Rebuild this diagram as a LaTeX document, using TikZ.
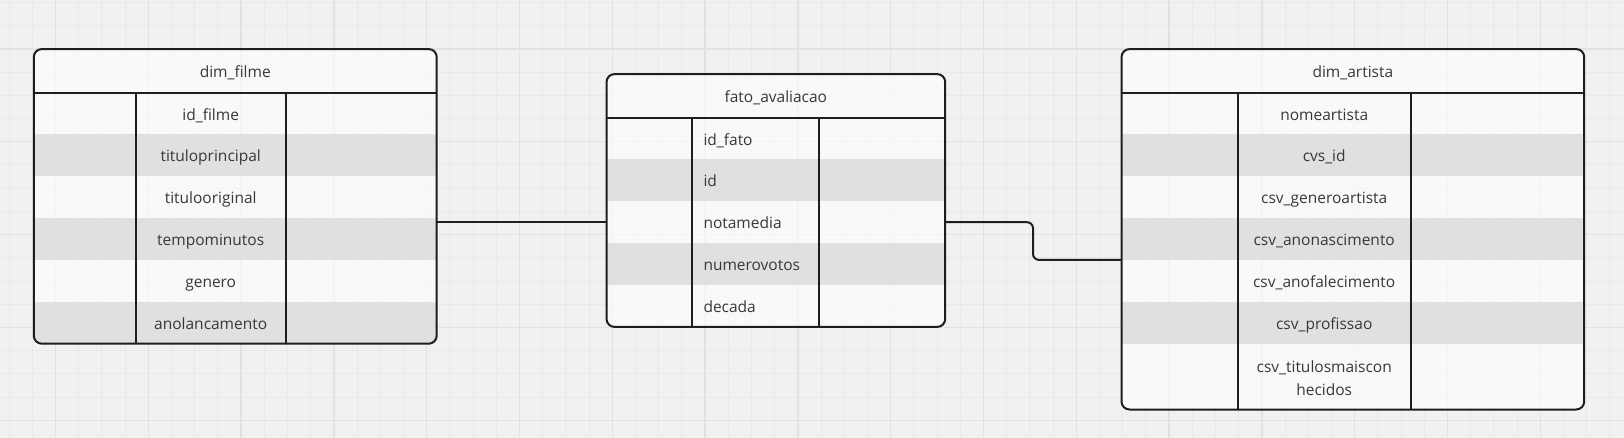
\documentclass[tikz,border=0pt]{standalone}
\usepackage{fontspec}
\setmainfont{Open Sans}
\usepackage{tikz}
\usepackage{xcolor}
\usetikzlibrary{positioning}

\definecolor{fundo}{HTML}{F1F1F1}
\definecolor{gradefina}{HTML}{E9E9E9}
\definecolor{gradegrossa}{HTML}{E2E2E2}
\definecolor{faixaclara}{HTML}{F7F7F7}
\definecolor{faixaescura}{HTML}{E0E0E0}
\definecolor{contorno}{HTML}{1E1E1E}
\definecolor{texto}{HTML}{383838}

\tikzset{
  tabela/.style={rectangle, inner sep=0pt, rounded corners=8pt, fill=white, fill opacity=0.6},
  borda/.style={draw=contorno, line width=2pt, rounded corners=8pt},
  divisoria/.style={draw=contorno, line width=2pt},
  faixa/.style={fill=faixaescura},
  campo/.style={inner sep=0pt, text=texto, font=\fontsize{15.5}{23.3}\selectfont, text height=13pt, text depth=0pt},
  ligacao/.style={draw=contorno, line width=2pt, rounded corners=6pt},
}

\begin{document}
\begin{tikzpicture}[x=1pt, y=-1pt]
\useasboundingbox (0,0) rectangle (1624,438);
\fill[fundo] (0,0) rectangle (1624,438);

% quadriculado do fundo
\begin{scope}
\clip (0,0) rectangle (1624,438);
\draw[gradefina, line width=1pt, xshift=9.1pt, yshift=-2.6pt, step=23.2pt] (-40,480) grid (1680,-40);
\draw[gradegrossa, line width=1.3pt, xshift=55.5pt, yshift=-49pt, step=92.8pt] (-100,540) grid (1700,-100);
\end{scope}

% dim_filme
\node[tabela, minimum width=402.5pt, minimum height=294.2pt] (filme) at (235.25,196.4) {};
\begin{scope}
\clip[rounded corners=8pt] (filme.north west) rectangle (filme.south east);
\fill[faixa] (34,134.5) rectangle (436.5,176.3);
\fill[faixa] (34,218.1) rectangle (436.5,259.9);
\fill[faixa] (34,301.7) rectangle (436.5,343.5);
\end{scope}
\draw[divisoria] (34,92.7) -- (436.5,92.7);
\draw[divisoria] (135.7,92.7) -- (135.7,343.5);
\draw[divisoria] (285.7,92.7) -- (285.7,343.5);
\draw[borda] (filme.north west) rectangle (filme.south east);
\node[campo] (tf) at (235.25,71) {dim\_filme};
\node[campo] (f1) at (210.7,113.6) {id\_filme};
\node[campo] (f2) at (210.7,155.4) {tituloprincipal};
\node[campo] (f3) at (210.7,197.2) {titulooriginal};
\node[campo] (f4) at (210.7,239.0) {tempominutos};
\node[campo] (f5) at (210.7,280.8) {genero};
\node[campo] (f6) at (210.7,322.6) {anolancamento};

% fato_avaliacao
\node[tabela, minimum width=338.3pt, minimum height=252.4pt] (fato) at (775.85,200.5) {};
\begin{scope}
\clip[rounded corners=8pt] (fato.north west) rectangle (fato.south east);
\fill[faixa] (606.7,159.5) rectangle (945,201.3);
\fill[faixa] (606.7,243.1) rectangle (945,284.9);
\end{scope}
\draw[divisoria] (606.7,117.7) -- (945,117.7);
\draw[divisoria] (691.7,117.7) -- (691.7,326.7);
\draw[divisoria] (819.3,117.7) -- (819.3,326.7);
\draw[borda] (fato.north west) rectangle (fato.south east);
\node[campo] (tv) at (775.85,96) {fato\_avaliacao};
\node[campo, anchor=west] (v1) at (703.3,138.6) {id\_fato};
\node[campo, anchor=west] (v2) at (703.3,180.4) {id};
\node[campo, anchor=west] (v3) at (703.3,222.2) {notamedia};
\node[campo, anchor=west] (v4) at (703.3,264.0) {numerovotos};
\node[campo, anchor=west] (v5) at (703.3,305.8) {decada};

% dim_artista
\node[tabela, minimum width=462.3pt, minimum height=360pt] (artista) at (1352.85,229.3) {};
\begin{scope}
\clip[rounded corners=8pt] (artista.north west) rectangle (artista.south east);
\fill[faixa] (1121.7,134.5) rectangle (1584,176.3);
\fill[faixa] (1121.7,218.1) rectangle (1584,259.9);
\fill[faixa] (1121.7,301.7) rectangle (1584,343.5);
\end{scope}
\draw[divisoria] (1121.7,92.7) -- (1584,92.7);
\draw[divisoria] (1237.7,92.7) -- (1237.7,409.3);
\draw[divisoria] (1410.7,92.7) -- (1410.7,409.3);
\draw[borda] (artista.north west) rectangle (artista.south east);
\node[campo] (ta) at (1352.85,71) {dim\_artista};
\node[campo] (a1) at (1324.2,113.6) {nomeartista};
\node[campo] (a2) at (1324.2,155.4) {cvs\_id};
\node[campo] (a3) at (1324.2,197.2) {csv\_generoartista};
\node[campo] (a4) at (1324.2,239.0) {csv\_anonascimento};
\node[campo] (a5) at (1324.2,280.8) {csv\_anofalecimento};
\node[campo] (a6) at (1324.2,322.6) {csv\_profissao};
\node[campo, align=center, text height=, text depth=] (a7) at (1324.2,378) {csv\_titulosmaiscon\\hecidos};

% ligacoes
\coordinate (dobra) at (1033,240);
\coordinate (a45) at (1121.7,259.9);
\draw[ligacao] (filme.east |- v3.west) -- (fato.west |- v3.west);
\draw[ligacao] (fato.east |- v3.west) -| (dobra) |- (artista.west |- a45);
\end{tikzpicture}
\end{document}
